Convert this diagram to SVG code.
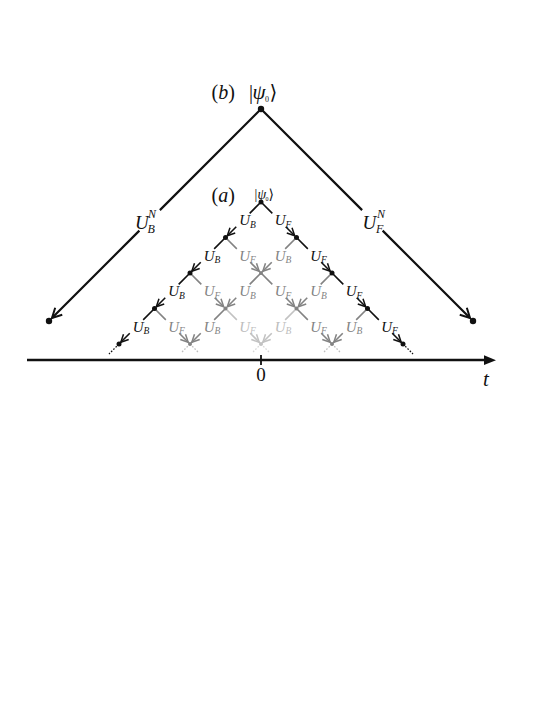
<svg xmlns="http://www.w3.org/2000/svg" width="545" height="705" viewBox="0 0 545 705">
<style>
text{font-family:"Liberation Serif","DejaVu Serif",serif;}
.it{font-style:italic;}
.k{stroke:#111;stroke-width:1.6;fill:none;}
.g{stroke:#838383;stroke-width:1.6;fill:none;}
.l{stroke:#c2c2c2;stroke-width:1.6;fill:none;}
.e{stroke-dasharray:16 19 60;}
.big{stroke:#111;stroke-width:2.2;fill:none;stroke-dasharray:143 29 300;}
.dot{stroke-width:1.3;stroke-dasharray:1.6 1.6;fill:none;}
.lb{font-size:15px;font-style:italic;}
.sb{font-size:9.5px;}
.tk{fill:#111;}
.tg{fill:#838383;}
.tl{fill:#bdbdbd;}
.BL{font-size:19px;font-style:italic;fill:#111;}
.bs{font-size:12px;font-style:italic;fill:#111;}
</style>
<defs>
<marker id="ak" markerUnits="userSpaceOnUse" markerWidth="10" markerHeight="10" refX="8" refY="4" orient="auto" overflow="visible"><path d="M0.5 0.3 L8 4 L0.5 7.7" fill="none" stroke="#111" stroke-width="1.5"/></marker>
<marker id="ag" markerUnits="userSpaceOnUse" markerWidth="10" markerHeight="10" refX="8" refY="4" orient="auto" overflow="visible"><path d="M0.5 0.3 L8 4 L0.5 7.7" fill="none" stroke="#838383" stroke-width="1.5"/></marker>
<marker id="al" markerUnits="userSpaceOnUse" markerWidth="10" markerHeight="10" refX="8" refY="4" orient="auto" overflow="visible"><path d="M0.5 0.3 L8 4 L0.5 7.7" fill="none" stroke="#c2c2c2" stroke-width="1.5"/></marker>
<marker id="aK" markerUnits="userSpaceOnUse" markerWidth="12" markerHeight="12" refX="10" refY="5" orient="auto" overflow="visible"><path d="M0.5 0 L10 5 L0.5 10" fill="none" stroke="#111" stroke-width="2"/></marker>
</defs>
<rect width="545" height="705" fill="#fff"/>

<g id="axis">
<path d="M27 360 H487" stroke="#111" stroke-width="2.4" fill="none"/>
<polygon points="484,355.3 496,360.2 484,365.1" fill="#111"/>
<path d="M261 355 V365" stroke="#111" stroke-width="1.8"/>
<text x="261" y="381" font-size="19" text-anchor="middle" fill="#111">0</text>
<text x="483" y="386" font-size="21" class="it" fill="#111">t</text>
</g>

<g id="connectors">
<path class="big" d="M261 109 L52 318" marker-end="url(#aK)"/>
<path class="big" d="M261 109 L470 318" marker-end="url(#aK)"/>
<text x="135" y="228.5" class="BL">U</text><text x="148" y="218" class="bs">N</text><text x="147.5" y="232.5" class="bs">B</text>
<text x="362.5" y="228.5" class="BL">U</text><text x="377" y="218" class="bs">N</text><text x="376" y="232.5" class="bs">F</text>

<path class="k e" d="M261 202 l-33.7 33.7" marker-end="url(#ak)"/>
<path class="k e" d="M261 202 l33.7 33.7" marker-end="url(#ak)"/>
<path class="k e" d="M225.5 237.5 l-33.7 33.7" marker-end="url(#ak)"/>
<path class="k e" d="M296.5 237.5 l33.7 33.7" marker-end="url(#ak)"/>
<path class="k e" d="M190 273 l-33.7 33.7" marker-end="url(#ak)"/>
<path class="k e" d="M332 273 l33.7 33.7" marker-end="url(#ak)"/>
<path class="k e" d="M154.5 308.5 l-33.7 33.7" marker-end="url(#ak)"/>
<path class="k e" d="M367.5 308.5 l33.7 33.7" marker-end="url(#ak)"/>
<path class="g e" d="M225.5 237.5 l33.7 33.7" marker-end="url(#ag)"/>
<path class="g e" d="M296.5 237.5 l-33.7 33.7" marker-end="url(#ag)"/>
<path class="g e" d="M190 273 l33.7 33.7" marker-end="url(#ag)"/>
<path class="g e" d="M261 273 l-33.7 33.7" marker-end="url(#ag)"/>
<path class="g e" d="M261 273 l33.7 33.7" marker-end="url(#ag)"/>
<path class="g e" d="M332 273 l-33.7 33.7" marker-end="url(#ag)"/>
<path class="g e" d="M154.5 308.5 l33.7 33.7" marker-end="url(#ag)"/>
<path class="g e" d="M225.5 308.5 l-33.7 33.7" marker-end="url(#ag)"/>
<path class="g e" d="M296.5 308.5 l33.7 33.7" marker-end="url(#ag)"/>
<path class="g e" d="M367.5 308.5 l-33.7 33.7" marker-end="url(#ag)"/>
<path class="l e" d="M225.5 308.5 l33.7 33.7" marker-end="url(#al)"/>
<path class="l e" d="M296.5 308.5 l-33.7 33.7" marker-end="url(#al)"/>
<path class="dot" stroke="#111" d="M119 344 l-10 10"/>
<path class="dot" stroke="#111" d="M403 344 l10 10"/>
<path class="dot" stroke="#bdbdbd" d="M190 344 l-9 9 M190 344 l9 9"/>
<path class="dot" stroke="#d6d6d6" d="M261 344 l-9 9 M261 344 l9 9"/>
<path class="dot" stroke="#bdbdbd" d="M332 344 l-9 9 M332 344 l9 9"/>

<text class="lb tk" x="239.2" y="225">U<tspan class="sb" dy="2.5">B</tspan></text>
<text class="lb tk" x="274.7" y="225">U<tspan class="sb" dy="2.5">F</tspan></text>
<text class="lb tk" x="203.7" y="260.5">U<tspan class="sb" dy="2.5">B</tspan></text>
<text class="lb tg" x="239.2" y="260.5">U<tspan class="sb" dy="2.5">F</tspan></text>
<text class="lb tg" x="274.7" y="260.5">U<tspan class="sb" dy="2.5">B</tspan></text>
<text class="lb tk" x="310.2" y="260.5">U<tspan class="sb" dy="2.5">F</tspan></text>
<text class="lb tk" x="168.2" y="296">U<tspan class="sb" dy="2.5">B</tspan></text>
<text class="lb tg" x="203.7" y="296">U<tspan class="sb" dy="2.5">F</tspan></text>
<text class="lb tg" x="239.2" y="296">U<tspan class="sb" dy="2.5">B</tspan></text>
<text class="lb tg" x="274.7" y="296">U<tspan class="sb" dy="2.5">F</tspan></text>
<text class="lb tg" x="310.2" y="296">U<tspan class="sb" dy="2.5">B</tspan></text>
<text class="lb tk" x="345.7" y="296">U<tspan class="sb" dy="2.5">F</tspan></text>
<text class="lb tk" x="132.7" y="331.5">U<tspan class="sb" dy="2.5">B</tspan></text>
<text class="lb tg" x="168.2" y="331.5">U<tspan class="sb" dy="2.5">F</tspan></text>
<text class="lb tg" x="203.7" y="331.5">U<tspan class="sb" dy="2.5">B</tspan></text>
<text class="lb tl" x="239.2" y="331.5">U<tspan class="sb" dy="2.5">F</tspan></text>
<text class="lb tl" x="274.7" y="331.5">U<tspan class="sb" dy="2.5">B</tspan></text>
<text class="lb tg" x="310.2" y="331.5">U<tspan class="sb" dy="2.5">F</tspan></text>
<text class="lb tg" x="345.7" y="331.5">U<tspan class="sb" dy="2.5">B</tspan></text>
<text class="lb tk" x="381.2" y="331.5">U<tspan class="sb" dy="2.5">F</tspan></text>
</g>

<g id="b-start">
<circle cx="261" cy="109" r="3.2" fill="#111"/>
<text x="211.5" y="99" font-size="20" fill="#111">(<tspan class="it">b</tspan>)</text>
<text y="99" font-size="20" fill="#111"><tspan x="249">|</tspan><tspan x="252.5" class="it" font-size="21">ψ</tspan><tspan x="265" dy="3" font-size="8">0</tspan><tspan x="269.5" dy="-3">⟩</tspan></text>
</g>
<g id="b-left"><circle cx="49" cy="321" r="3.2" fill="#111"/></g>
<g id="b-right"><circle cx="473" cy="321" r="3.2" fill="#111"/></g>

<g id="a-start">
<circle cx="261" cy="202" r="2.5" fill="#111"/>
<text x="211.5" y="202" font-size="20" fill="#111">(<tspan class="it">a</tspan>)</text>
<text y="198.5" font-size="14" fill="#111"><tspan x="254.5">|</tspan><tspan x="257.5" class="it">ψ</tspan><tspan x="265.5" dy="2" font-size="6">0</tspan><tspan x="268.5" dy="-2">⟩</tspan></text>
</g>
<g id="n10"><circle cx="225.5" cy="237.5" r="2.5" fill="#111"/></g>
<g id="n11"><circle cx="296.5" cy="237.5" r="2.5" fill="#111"/></g>
<g id="n20"><circle cx="190" cy="273" r="2.5" fill="#111"/></g>
<g id="n21"><circle cx="261" cy="273" r="2" fill="#838383"/></g>
<g id="n22"><circle cx="332" cy="273" r="2.5" fill="#111"/></g>
<g id="n30"><circle cx="154.5" cy="308.5" r="2.5" fill="#111"/></g>
<g id="n31"><circle cx="225.5" cy="308.5" r="2" fill="#838383"/></g>
<g id="n32"><circle cx="296.5" cy="308.5" r="2" fill="#838383"/></g>
<g id="n33"><circle cx="367.5" cy="308.5" r="2.5" fill="#111"/></g>
<g id="n40"><circle cx="119" cy="344" r="2.5" fill="#111"/></g>
<g id="n41"><circle cx="190" cy="344" r="2" fill="#838383"/></g>
<g id="n42"><circle cx="261" cy="344" r="2" fill="#c2c2c2"/></g>
<g id="n43"><circle cx="332" cy="344" r="2" fill="#838383"/></g>
<g id="n44"><circle cx="403" cy="344" r="2.5" fill="#111"/></g>
</svg>
